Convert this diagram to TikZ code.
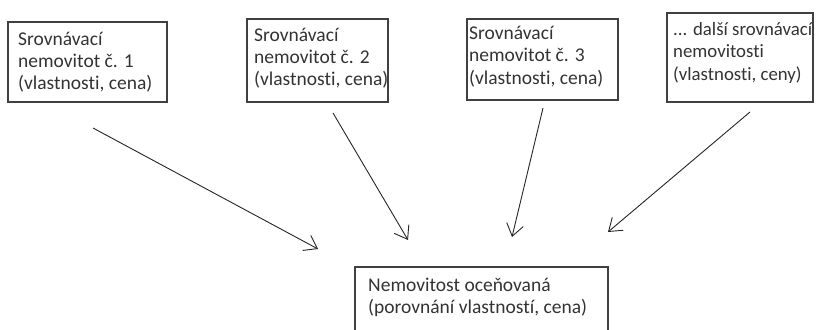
\documentclass[tikz,border=0pt]{standalone}
\usepackage{fontspec}
\setmainfont[Ligatures=NoCommon]{Carlito}
\usetikzlibrary{arrows.meta}
\begin{document}
\begin{tikzpicture}[x=1pt,y=-1pt,
  boxst/.style={draw=black!75, line width=1.2pt, inner sep=0pt},
  txt/.style={font=\fontsize{19.5}{22}\selectfont, text=black!80, align=left, inner sep=0pt, anchor=base west},
  arr/.style={draw=black!85, line width=0.9pt, -{Straight Barb[length=12pt,width=17pt,line width=0.9pt]}}]
\useasboundingbox (0,0) rectangle (821,329);
\clip (0,0) rectangle (821,329);
\fill[white] (0,0) rectangle (821,329);
% boxes
\node[boxst, minimum width=159pt, minimum height=80pt] (b1) at (87.5,62) {};
\node[boxst, minimum width=141pt, minimum height=83pt] (b2) at (317.5,60.5) {};
\node[boxst, minimum width=151pt, minimum height=81pt] (b3) at (542.5,59.5) {};
\node[boxst, minimum width=146pt, minimum height=89pt] (b4) at (740,57.5) {};
\node[boxst, minimum width=253pt, minimum height=68pt] (b5) at (481.5,301) {};
% texts (anchored at the baseline of the last line)
\node[txt] (t1) at (18,89) {Srovnávací\\nemovitot č. 1\\(vlastnosti, cena)};
\node[txt] (t2) at (254,85) {Srovnávací\\nemovitot č. 2\\(vlastnosti, cena)};
\node[txt] (t3) at (469,84) {Srovnávací\\nemovitot č. 3\\(vlastnosti, cena)};
\node[txt, font=\fontsize{18.8}{22}\selectfont] (t4) at (673,80) {... další srovnávací\\nemovitosti\\(vlastnosti, ceny)};
\node[txt] (t5) at (368,313) {Nemovitost oceňovaná\\(porovnání vlastností, cena)};
% arrows
\coordinate (s1) at (93,128);  \coordinate (e1) at (318,249);
\coordinate (s2) at (333,113); \coordinate (e2) at (408,240);
\coordinate (s3) at (543,108); \coordinate (e3) at (512,237);
\coordinate (s4) at (750,112); \coordinate (e4) at (608,232);
\draw[arr] (s1) -- (e1);
\draw[arr] (s2) -- (e2);
\draw[arr] (s3) -- (e3);
\draw[arr] (s4) -- (e4);
\end{tikzpicture}
\end{document}
